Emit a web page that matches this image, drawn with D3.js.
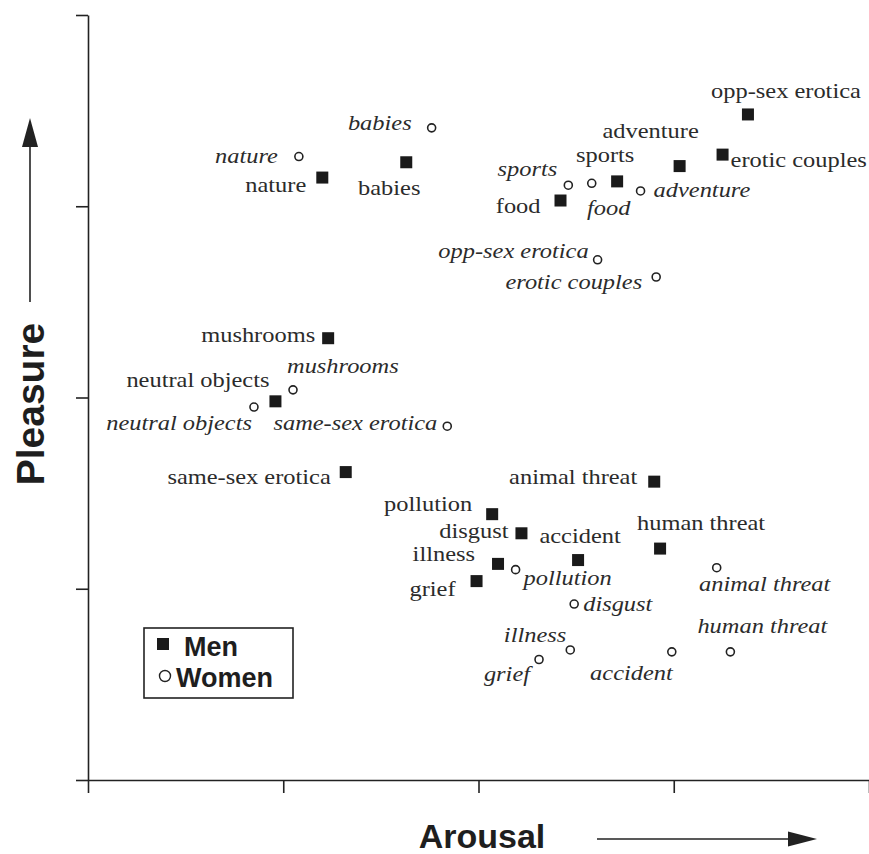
<!DOCTYPE html>
<html>
<head>
<meta charset="utf-8">
<script src="https://cdn.jsdelivr.net/npm/d3@7"></script>
<style>
  html, body { margin: 0; padding: 0; background: #fff; }
  svg { display: block; }
</style>
</head>
<body>
<svg id="chart" width="869" height="854"></svg>
<script>
// ---- data ----
const categories = ["nature", "babies", "sports", "food", "adventure", "opp-sex erotica",
  "erotic couples", "mushrooms", "neutral objects", "same-sex erotica", "animal threat",
  "pollution", "disgust", "human threat", "accident", "illness", "grief"];
const menArousal   = [1.20, 1.63, 2.71, 2.42, 3.03, 3.38, 3.25, 1.23, 0.96, 1.32, 2.90, 2.07, 2.22, 2.93, 2.51, 2.10, 1.99];
const menPleasure  = [3.15, 3.23, 3.13, 3.03, 3.21, 3.48, 3.27, 2.31, 1.98, 1.61, 1.56, 1.39, 1.29, 1.21, 1.15, 1.13, 1.04];
const womenArousal  = [1.08, 1.76, 2.46, 2.58, 2.83, 2.61, 2.91, 1.05, 0.85, 1.84, 3.22, 2.19, 2.49, 3.29, 2.99, 2.47, 2.31];
const womenPleasure = [3.26, 3.41, 3.11, 3.12, 3.08, 2.72, 2.63, 2.04, 1.95, 1.85, 1.11, 1.10, 0.92, 0.67, 0.67, 0.68, 0.63];
const xTicks = [0, 1, 2, 3, 4];
const yTicks = [0, 1, 2, 3, 4];
const xTitle = "Arousal";
const yTitle = "Pleasure";
const seriesNames = ["Men", "Women"];

// ---- label placement (style only) ----
const menLabelPos = {
  "nature": ["end", -16, 14], "babies": ["middle", -17, 33], "sports": ["middle", -12, -19],
  "food": ["end", -20, 12], "adventure": ["middle", -29, -28], "opp-sex erotica": ["middle", 38, -16],
  "erotic couples": ["start", 8, 12], "mushrooms": ["end", -13, 4], "neutral objects": ["end", -6, -14],
  "same-sex erotica": ["end", -15, 12], "animal threat": ["end", -17, 2], "pollution": ["end", -20, -3],
  "disgust": ["end", -13, 5], "human threat": ["middle", 41, -19], "accident": ["middle", 2, -17],
  "illness": ["end", -23, -3], "grief": ["end", -21, 15]
};
const womenLabelPos = {
  "nature": ["end", -21, 6], "babies": ["end", -20, 2], "sports": ["end", -11, -9],
  "food": ["middle", 17, 32], "adventure": ["start", 13, 6], "opp-sex erotica": ["end", -9, -2],
  "erotic couples": ["end", -14, 12], "mushrooms": ["start", -6, -17], "neutral objects": ["end", -2, 23],
  "same-sex erotica": ["end", -10, 4], "animal threat": ["middle", 48, 23], "pollution": ["start", 8, 15],
  "disgust": ["start", 9, 7], "human threat": ["middle", 32, -19], "accident": ["end", 1, 28],
  "illness": ["end", -4, -8], "grief": ["end", -9, 21]
};

const svg = d3.select("#chart");
const ink = "#222";
const textInk = "#2b2b2b";

const x = d3.scaleLinear().domain([0, 4]).range([88, 869]);
const y = d3.scaleLinear().domain([0, 4]).range([780, 15]);

// axes
const gx = svg.append("g").attr("transform", "translate(0,780)")
  .call(d3.axisBottom(x).tickValues(xTicks).tickSize(13).tickSizeOuter(0).tickFormat(""));
const gy = svg.append("g").attr("transform", "translate(88,0)")
  .call(d3.axisLeft(y).tickValues(yTicks).tickSize(12).tickSizeOuter(0).tickFormat(""));
[gx, gy].forEach(g => {
  g.selectAll("path.domain").attr("stroke", ink).attr("stroke-width", 1.6);
  g.selectAll(".tick line").attr("stroke", ink).attr("stroke-width", 1.6);
});

// axis titles
svg.append("text")
  .attr("transform", "translate(44,404) rotate(-90)")
  .attr("text-anchor", "middle")
  .attr("font-family", "Liberation Sans, Arial, sans-serif")
  .attr("font-weight", "bold").attr("font-size", 39).attr("fill", "#1e1e1e")
  .text(yTitle);
svg.append("text")
  .attr("x", 482).attr("y", 848)
  .attr("text-anchor", "middle")
  .attr("font-family", "Liberation Sans, Arial, sans-serif")
  .attr("font-weight", "bold").attr("font-size", 34).attr("fill", "#1e1e1e")
  .text(xTitle);

// arrows
svg.append("line").attr("x1", 30).attr("y1", 302).attr("x2", 30).attr("y2", 140)
  .attr("stroke", ink).attr("stroke-width", 1.6);
svg.append("path").attr("d", "M30,118 L22,147 L38,147 Z").attr("fill", ink);
svg.append("line").attr("x1", 597).attr("y1", 839).attr("x2", 795).attr("y2", 839)
  .attr("stroke", ink).attr("stroke-width", 1.6);
svg.append("path").attr("d", "M817,839 L788,831.5 L788,846.5 Z").attr("fill", ink);

const serif = "Liberation Serif, Times New Roman, serif";
const labelSize = 22;
const stretch = 1.11;

const men = categories.map((c, i) => ({ c, ax: menArousal[i], pl: menPleasure[i] }));
const women = categories.map((c, i) => ({ c, ax: womenArousal[i], pl: womenPleasure[i] }));

// men: filled squares
svg.append("g").selectAll("rect").data(men).join("rect")
  .attr("x", d => x(d.ax) - 6).attr("y", d => y(d.pl) - 6)
  .attr("width", 12).attr("height", 12).attr("fill", "#1a1a1a");

// women: open circles
svg.append("g").selectAll("circle").data(women).join("circle")
  .attr("cx", d => x(d.ax)).attr("cy", d => y(d.pl)).attr("r", 4)
  .attr("fill", "#fff").attr("stroke", "#222").attr("stroke-width", 1.6);

svg.append("g").selectAll("text").data(men).join("text")
  .attr("transform", d => `translate(${x(d.ax) + menLabelPos[d.c][1]},${y(d.pl) + menLabelPos[d.c][2]}) scale(${stretch},1)`)
  .attr("text-anchor", d => menLabelPos[d.c][0])
  .attr("font-family", serif).attr("font-size", labelSize).attr("fill", textInk)
  .text(d => d.c);

svg.append("g").selectAll("text").data(women).join("text")
  .attr("transform", d => `translate(${x(d.ax) + womenLabelPos[d.c][1]},${y(d.pl) + womenLabelPos[d.c][2]}) scale(${stretch},1)`)
  .attr("text-anchor", d => womenLabelPos[d.c][0])
  .attr("font-family", serif).attr("font-style", "italic").attr("font-size", labelSize).attr("fill", textInk)
  .text(d => d.c);

// legend
const lg = svg.append("g");
lg.append("rect").attr("x", 144).attr("y", 628).attr("width", 149).attr("height", 70)
  .attr("fill", "#fff").attr("stroke", ink).attr("stroke-width", 1.6);
lg.append("rect").attr("x", 157).attr("y", 638).attr("width", 12).attr("height", 12).attr("fill", "#1a1a1a");
lg.append("circle").attr("cx", 165).attr("cy", 676).attr("r", 5.5)
  .attr("fill", "#fff").attr("stroke", "#222").attr("stroke-width", 1.4);
lg.append("text").attr("x", 184).attr("y", 656)
  .attr("font-family", "Liberation Sans, Arial, sans-serif").attr("font-weight", "bold")
  .attr("font-size", 27).attr("fill", "#1e1e1e").text(seriesNames[0]);
lg.append("text").attr("x", 176).attr("y", 687)
  .attr("font-family", "Liberation Sans, Arial, sans-serif").attr("font-weight", "bold")
  .attr("font-size", 27).attr("fill", "#1e1e1e").text(seriesNames[1]);
</script>
</body>
</html>
